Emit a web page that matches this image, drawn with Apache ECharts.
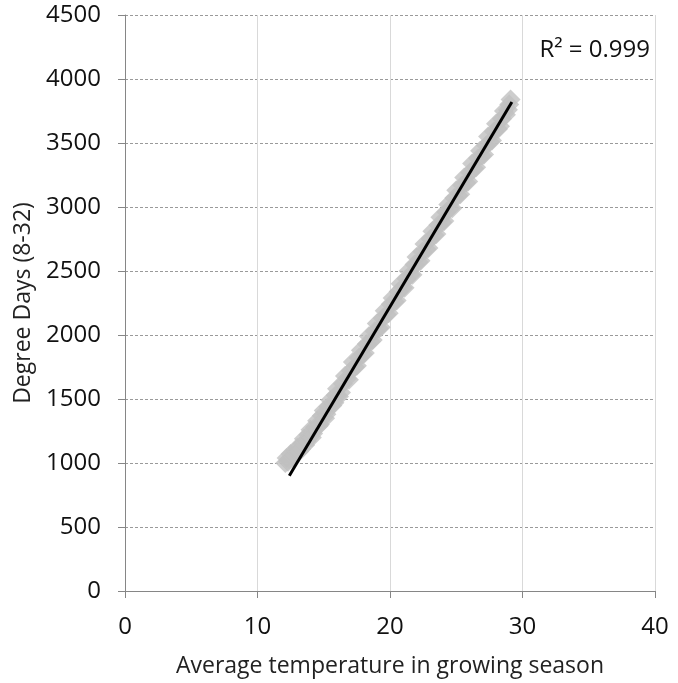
<!DOCTYPE html>
<html>
<head>
<meta charset="utf-8">
<script src="https://cdn.jsdelivr.net/npm/echarts@6/dist/echarts.min.js"></script>
<style>
  html, body { margin: 0; padding: 0; background: #fff; }
  #chart { width: 678px; height: 683px; }
</style>
</head>
<body>
<div id="chart"></div>
<script>
// temperature (x) and degree days (y)
var tempX = [12.1, 12.2, 12.3, 12.4, 12.5, 12.65, 12.8, 12.9, 13.0, 13.15, 13.3, 13.4, 13.5, 13.6, 13.7, 13.85,
  14.0, 14.1, 14.2, 14.35, 14.5, 14.6, 14.7, 14.85, 15.0, 15.1, 15.2, 15.35, 15.5, 15.65, 15.8, 15.9,
  16.0, 16.15, 16.3, 16.45, 16.6, 16.75, 16.9, 17.05, 17.2, 17.35, 17.5, 17.65, 17.8, 17.95, 18.1, 18.25,
  18.4, 18.55, 18.7, 18.85, 19.0, 19.15, 19.3, 19.45, 19.6, 19.75, 19.9, 20.05, 20.2, 20.35, 20.5, 20.65,
  20.8, 20.95, 21.1, 21.25, 21.4, 21.55, 21.7, 21.85, 22.0, 22.15, 22.3, 22.45, 22.6, 22.75, 22.9, 23.05,
  23.2, 23.35, 23.5, 23.65, 23.8, 23.95, 24.1, 24.25, 24.4, 24.55, 24.7, 24.85, 25.0, 25.15, 25.3, 25.45,
  25.6, 25.75, 25.9, 26.05, 26.2, 26.35, 26.5, 26.65, 26.8, 26.95, 27.1, 27.25, 27.4, 27.55, 27.7, 27.85,
  28.0, 28.15, 28.3, 28.45, 28.6, 28.75, 28.9, 29.0, 29.1];
var degDays = [1000, 1040, 1010, 1030, 1070, 1050, 1060, 1100, 1120, 1090, 1110, 1150, 1190, 1140, 1170, 1220,
  1260, 1200, 1230, 1280, 1330, 1290, 1300, 1370, 1410, 1350, 1380, 1440, 1490, 1450, 1470, 1530,
  1580, 1520, 1550, 1620, 1680, 1660, 1650, 1720, 1790, 1750, 1760, 1820, 1880, 1850, 1860, 1930,
  1990, 1950, 1960, 2030, 2090, 2050, 2060, 2130, 2190, 2160, 2170, 2240, 2290, 2260, 2270, 2340,
  2400, 2370, 2370, 2440, 2500, 2470, 2470, 2550, 2610, 2570, 2580, 2650, 2710, 2670, 2680, 2750,
  2810, 2780, 2790, 2860, 2920, 2880, 2890, 2960, 3020, 2990, 2990, 3070, 3130, 3090, 3100, 3170,
  3230, 3190, 3200, 3270, 3340, 3300, 3310, 3380, 3440, 3400, 3410, 3480, 3550, 3510, 3520, 3590,
  3650, 3610, 3630, 3690, 3750, 3720, 3760, 3800, 3840];
// fitted trend line end points
var fitX = [12.4, 29.2];
var fitY = [900, 3820];
var r2Label = 'R² = 0.999';

var pts = tempX.map(function (x, i) { return [x, degDays[i]]; });
var fit = fitX.map(function (x, i) { return [x, fitY[i]]; });

var font = '"Open Sans", sans-serif';
var chart = echarts.init(document.getElementById('chart'));
chart.setOption({
  animation: false,
  grid: { left: 125, right: 23, top: 15, bottom: 92 },
  xAxis: {
    type: 'value', min: 0, max: 40, interval: 10,
    name: 'Average temperature in growing season',
    nameLocation: 'middle', nameGap: 64,
    nameTextStyle: { fontFamily: font, fontSize: 23, color: '#222' },
    axisLine: { lineStyle: { color: '#868686' } },
    axisTick: { show: true, length: 7, lineStyle: { color: '#868686' } },
    axisLabel: { fontFamily: font, fontSize: 24, color: '#111', margin: 24 },
    splitLine: { show: true, lineStyle: { color: '#d9d9d9', type: 'solid' } }
  },
  yAxis: {
    type: 'value', min: 0, max: 4500, interval: 500,
    name: 'Degree Days (8-32)',
    nameLocation: 'middle', nameGap: 89,
    nameTextStyle: { fontFamily: font, fontSize: 23, color: '#222' },
    axisLine: { show: true, lineStyle: { color: '#868686' } },
    axisTick: { show: true, length: 7, lineStyle: { color: '#868686' } },
    axisLabel: {
      fontFamily: font, fontSize: 24, color: '#111', margin: 24,
      formatter: function (v) { return String(v); }
    },
    splitLine: { show: true, lineStyle: { color: '#9a9a9a', type: [3, 2] } }
  },
  series: [{
    type: 'scatter',
    data: pts,
    symbol: 'diamond',
    symbolSize: 20,
    itemStyle: { color: '#c0c0c0' }
  }, {
    type: 'line',
    data: fit,
    symbol: 'none',
    lineStyle: { color: '#000', width: 3 }
  }],
  graphic: [{
    type: 'text', right: 28, top: 38,
    style: { text: r2Label, fontFamily: font, fontSize: 24, fill: '#111' }
  }]
});
</script>
</body>
</html>
